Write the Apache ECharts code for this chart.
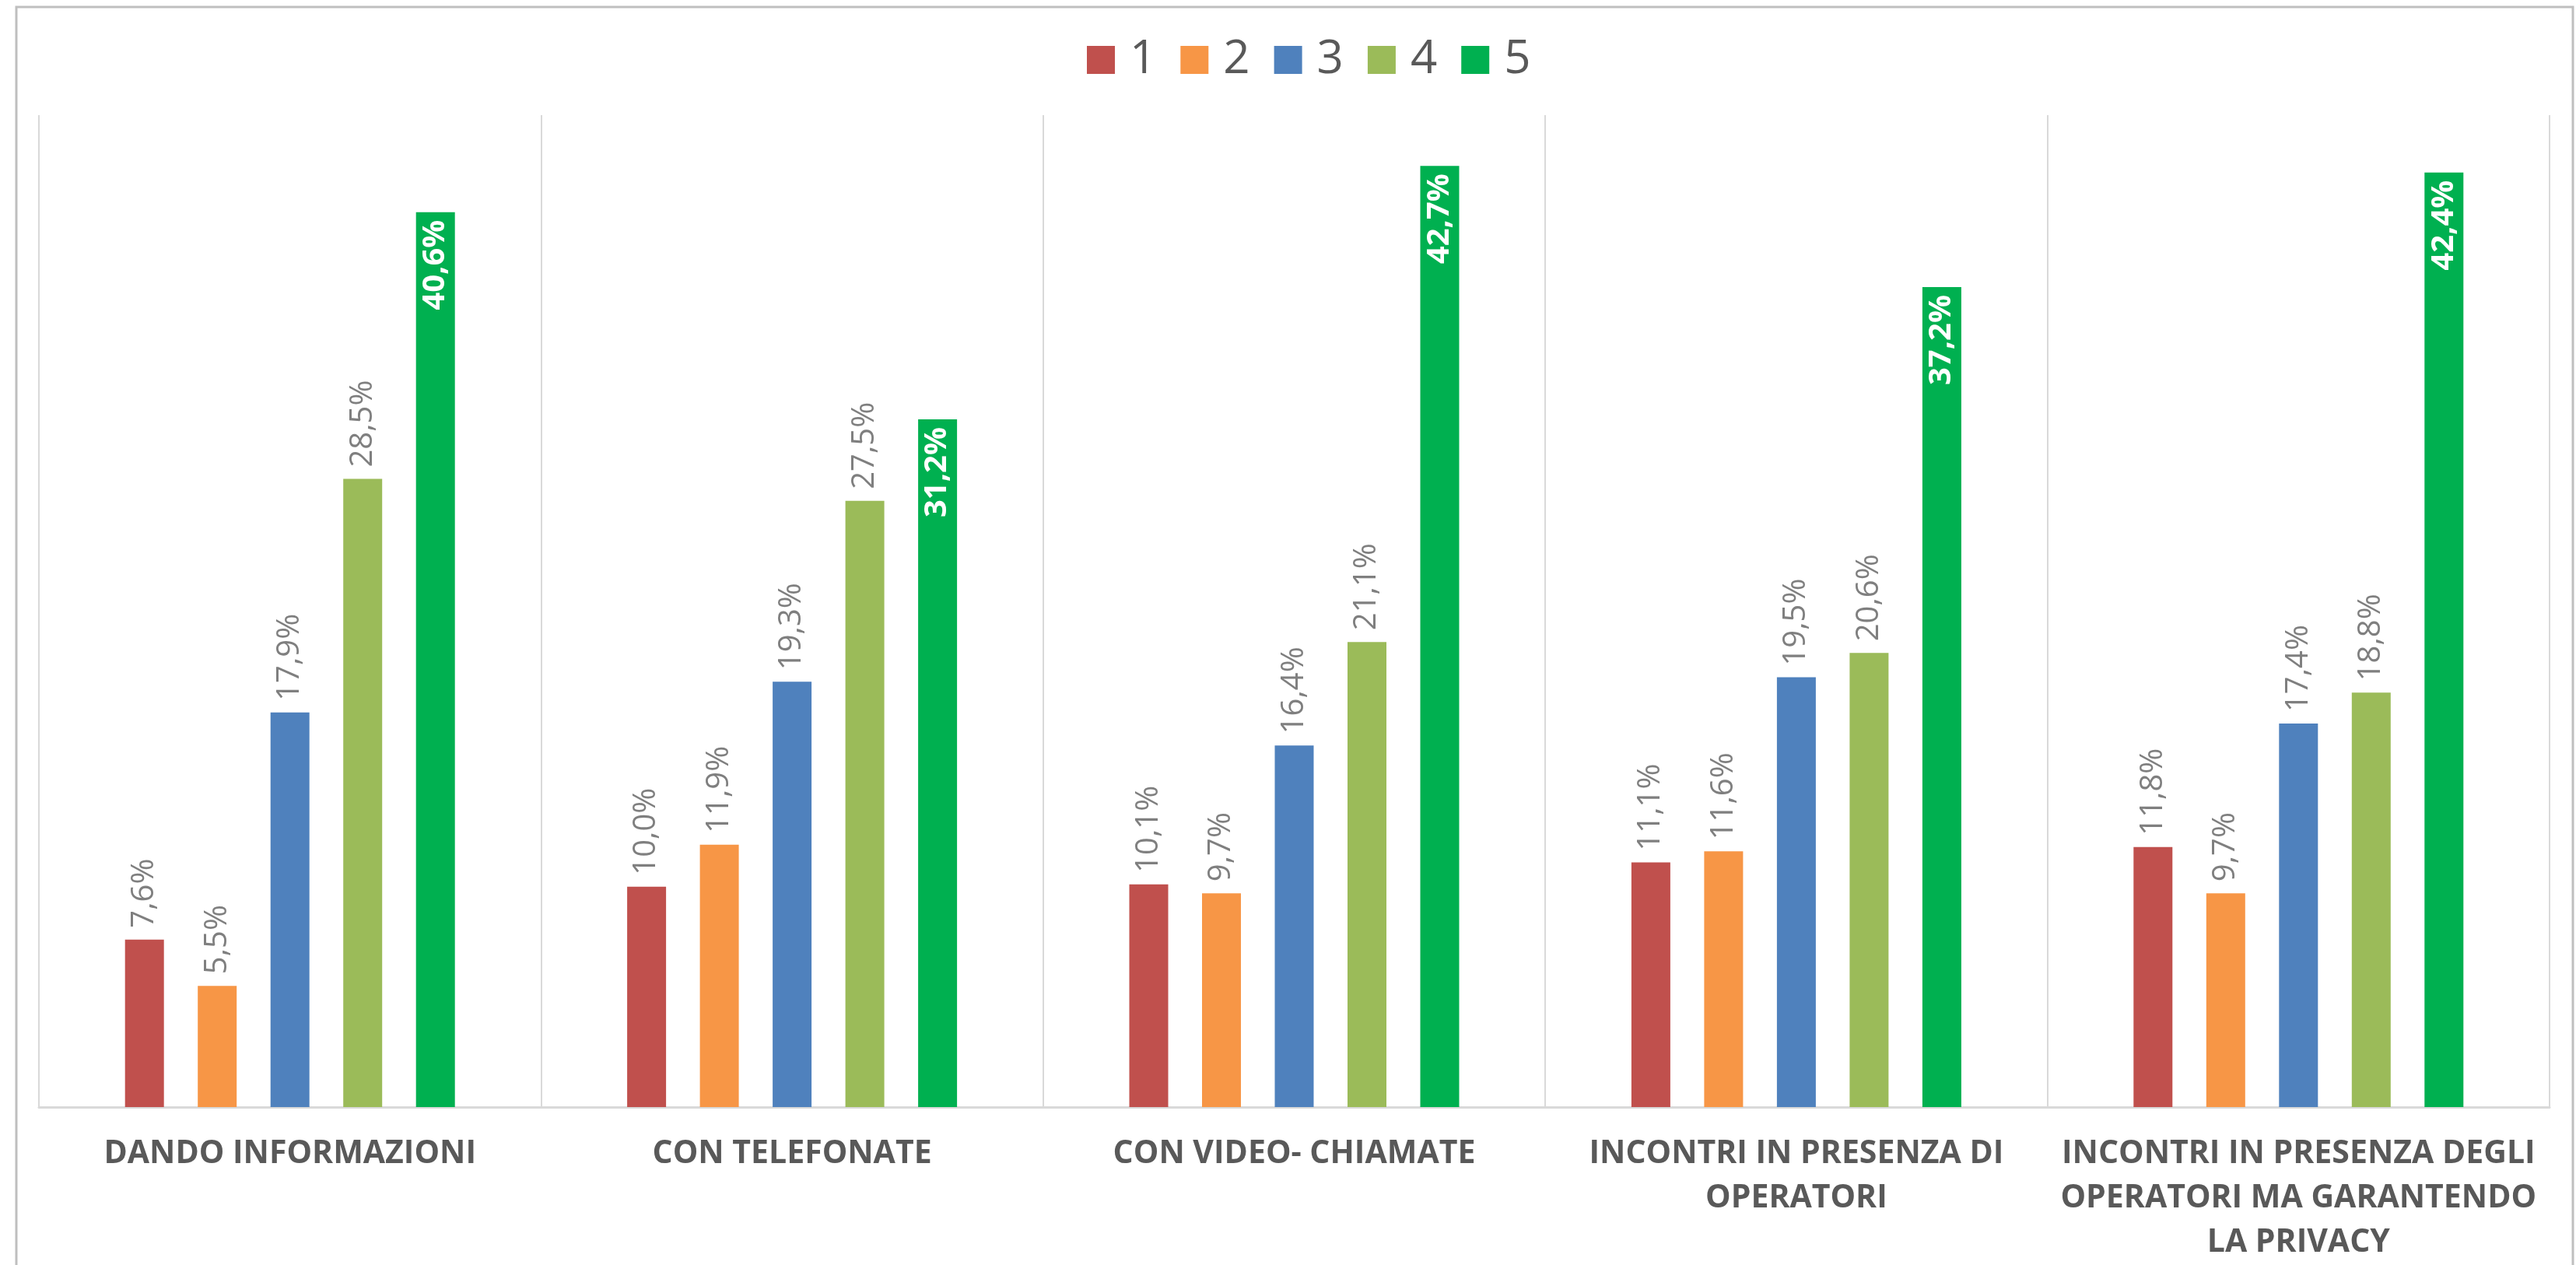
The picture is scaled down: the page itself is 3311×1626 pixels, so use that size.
<!DOCTYPE html>
<html>
<head>
<meta charset="utf-8">
<script src="https://cdn.jsdelivr.net/npm/echarts@6/dist/echarts.min.js"></script>
<style>
html,body{margin:0;padding:0;background:#fff;}
#chart{width:3311px;height:1626px;}
</style>
</head>
<body>
<div id="chart"></div>
<script>
const categories = [
  'DANDO INFORMAZIONI',
  'CON TELEFONATE',
  'CON VIDEO- CHIAMATE',
  'INCONTRI IN PRESENZA DI\nOPERATORI',
  'INCONTRI IN PRESENZA DEGLI\nOPERATORI MA GARANTENDO\nLA PRIVACY'
];
const seriesNames = ['1', '2', '3', '4', '5'];
const s1 = [7.6, 10.0, 10.1, 11.1, 11.8];
const s2 = [5.5, 11.9, 9.7, 11.6, 9.7];
const s3 = [17.9, 19.3, 16.4, 19.5, 17.4];
const s4 = [28.5, 27.5, 21.1, 20.6, 18.8];
const s5 = [40.6, 31.2, 42.7, 37.2, 42.4];
const colors = ['#C0504D', '#F79646', '#4F81BD', '#9BBB59', '#00B050'];

const font = '"Open Sans", "Noto Sans", sans-serif';
const fmt = p => p.value.toFixed(1).replace('.', ',') + '%';

const allData = [s1, s2, s3, s4, s5];
const series = allData.map((d, i) => {
  const last = i === 4;
  return {
    name: seriesNames[i],
    type: 'bar',
    data: d,
    barWidth: 50,
    barGap: '87%',
    itemStyle: { color: colors[i] },
    label: last ? {
      show: true,
      position: 'insideTop',
      rotate: 90,
      align: 'right',
      verticalAlign: 'middle',
      distance: 10,
      color: '#ffffff',
      fontWeight: 'bold',
      fontSize: 40,
      fontFamily: font,
      formatter: fmt
    } : {
      show: true,
      position: 'top',
      rotate: 90,
      align: 'left',
      verticalAlign: 'middle',
      distance: 15,
      color: '#7f7f7f',
      fontSize: 40,
      fontFamily: font,
      formatter: fmt
    }
  };
});

const chart = echarts.init(document.getElementById('chart'));
chart.setOption({
  backgroundColor: '#ffffff',
  animation: false,
  graphic: [{
    type: 'rect',
    shape: { x: 21, y: 9, width: 3286, height: 1700 },
    style: { fill: 'none', stroke: '#bfbfbf', lineWidth: 3 },
    silent: true,
    z: -1
  }],
  legend: {
    top: 42,
    left: 1392,
    itemWidth: 36,
    itemHeight: 36,
    itemGap: 31,
    icon: 'rect',
    textStyle: { fontSize: 60, color: '#595959', fontFamily: font, padding: [0, 0, 0, 14] }
  },
  grid: { left: 50, right: 34, top: 148, bottom: 194, containLabel: false },
  xAxis: {
    type: 'category',
    data: categories,
    axisLine: { show: true, lineStyle: { color: '#d9d9d9', width: 3 } },
    axisTick: { show: false },
    splitLine: { show: true, lineStyle: { color: '#d9d9d9', width: 2 } },
    axisLabel: {
      interval: 0,
      margin: 32,
      fontSize: 41,
      fontWeight: 'bold',
      color: '#595959',
      fontFamily: font,
      lineHeight: 57
    }
  },
  yAxis: {
    type: 'value',
    min: 0,
    max: 45,
    show: false,
    splitLine: { show: false }
  },
  series: series
});
</script>
</body>
</html>
